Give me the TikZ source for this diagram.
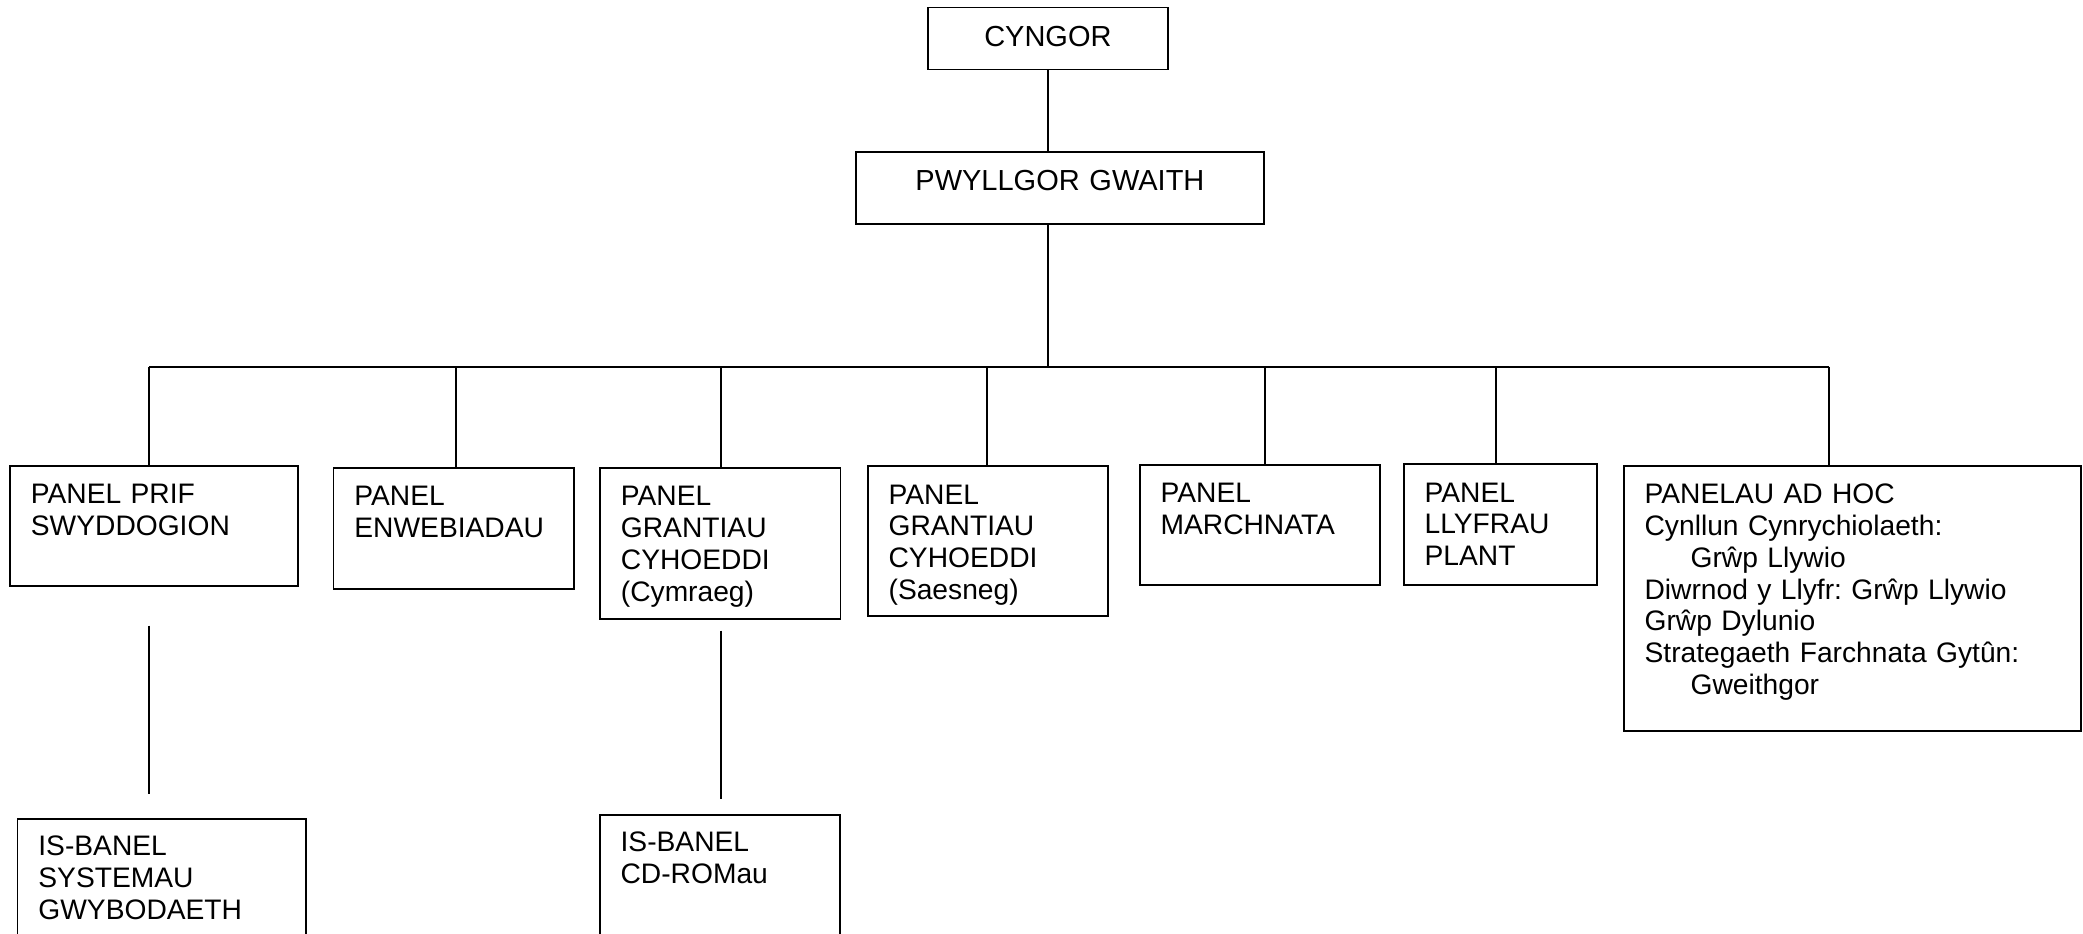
\documentclass[tikz,border=0pt]{standalone}
\usepackage{fontspec}
\setmainfont{Liberation Sans}
\frenchspacing
\begin{document}
\begin{tikzpicture}[x=1pt,y=-1pt,
  topbox/.style={draw, line width=1.8pt, anchor=north west, inner xsep=0pt, inner ysep=0pt, align=center, font=\fontsize{29}{31.7}\selectfont},
  panel/.style={draw, line width=1.8pt, anchor=north west, inner xsep=21pt, inner ysep=0pt, align=left, text height=38pt, font=\fontsize{28.2}{31.7}\selectfont},
  conn/.style={line width=1.8pt},
  thin/.style={line width=1.5pt}]
\fill[white] (0,0) rectangle (2083,934);
\useasboundingbox (0,0) rectangle (2083,934);
\clip (0,0) rectangle (2083,934);
% top
\node[topbox, text width=240pt, text height=39pt, text depth=23pt] (cyngor) at (927,6.7) {CYNGOR};
\node[topbox, text width=408pt, text height=39.3pt, text depth=32.7pt] (pwyllgor) at (855,150.7) {PWYLLGOR GWAITH};
% panels
\node[panel, text width=246pt, text depth=82pt] (prif) at (9,465) {PANEL PRIF\\SWYDDOGION};
\node[panel, text width=198.4pt, text depth=83pt] (enweb) at (332.5,466.7) {PANEL\\ENWEBIADAU};
\node[panel, text width=198.5pt, text depth=113pt] (grcym) at (599,467) {PANEL\\GRANTIAU\\CYHOEDDI\\(Cymraeg)};
\node[panel, text width=198.3pt, text depth=112pt] (grsaes) at (866.7,465.3) {PANEL\\GRANTIAU\\CYHOEDDI\\(Saesneg)};
\node[panel, text width=198.6pt, text depth=82.3pt] (march) at (1138.7,464) {PANEL\\MARCHNATA};
\node[panel, text width=151pt, text depth=83pt] (llyfr) at (1402.7,463.3) {PANEL\\LLYFRAU\\PLANT};
\node[panel, text width=415.3pt, text depth=227pt] (adhoc) at (1622.7,465) {PANELAU AD HOC\\Cynllun Cynrychiolaeth:\\\hspace*{46pt}Grŵp Llywio\\Diwrnod y Llyfr: Grŵp Llywio\\Grŵp Dylunio\\Strategaeth Farchnata Gytûn:\\\hspace*{46pt}Gweithgor};
% sub panels
\node[panel, text width=246.5pt, text height=37.3pt, text depth=122.7pt] (systemau) at (16.5,817.7) {IS-BANEL\\SYSTEMAU\\GWYBODAETH};
\node[panel, text width=198.6pt, text height=36.4pt, text depth=123.6pt] (cdrom) at (598.7,814.3) {IS-BANEL\\CD-ROMau};
% connectors
\draw[conn] (cyngor.south) -- (cyngor.south |- pwyllgor.north);
\coordinate (busL) at (148.8,366.7);
\coordinate (busR) at (1829,366.7);
\draw[conn] (cyngor.south |- pwyllgor.south) -- (cyngor.south |- busL);
\draw[conn] (busL) -- (busR);
\coordinate (d2) at (455.6,366.7);
\coordinate (d3) at (721,366.7);
\coordinate (d4) at (987,366.7);
\coordinate (d5) at (1265,366.7);
\coordinate (d6) at (1495.8,366.7);
\draw[conn] (busL) -- (busL |- prif.north);
\draw[conn] (d2) -- (d2 |- enweb.north);
\draw[conn] (d3) -- (d3 |- grcym.north);
\draw[conn] (d4) -- (d4 |- grsaes.north);
\draw[conn] (d5) -- (d5 |- march.north);
\draw[conn] (d6) -- (d6 |- llyfr.north);
\draw[conn] (busR) -- (busR |- adhoc.north);
\coordinate (s1a) at (148.8,625.7);
\coordinate (s1b) at (148.8,794.3);
\coordinate (s2a) at (721,630.7);
\coordinate (s2b) at (721,799.3);
\draw[thin] (s1a) -- (s1b);
\draw[thin] (s2a) -- (s2b);
\end{tikzpicture}
\end{document}
